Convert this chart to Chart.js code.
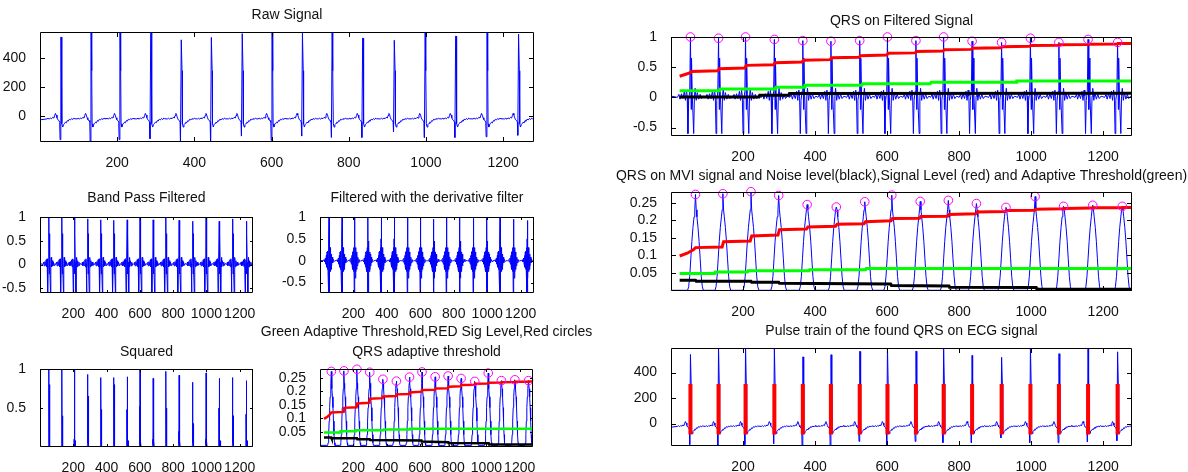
<!DOCTYPE html>
<html>
<head>
<meta charset="utf-8">
<title>QRS detection</title>
<script src="https://cdn.jsdelivr.net/npm/chart.js@4.4.1/dist/chart.umd.min.js"></script>
<style>
  html, body { margin: 0; background: #fff; }
  #page { position: relative; width: 1188px; height: 472px; overflow: hidden; }
  #page canvas { position: absolute; }
</style>
</head>
<body>
<div id="page"></div>
<script>
// ---- data ----
const xTicks = [200, 400, 600, 800, 1000, 1200];
const rawYTicks = [0, 200, 400];
const filtYTicks = [-0.5, 0, 0.5, 1];
const sqYTicks = [0.5, 1];
const mviYTicks = [0.05, 0.1, 0.15, 0.2, 0.25];

// R peak sample positions, and the (delayed) peaks of the integrated signal
const beatX = [54, 132, 207, 287, 366, 444, 524, 601, 680, 757, 836, 918, 998, 1077, 1158, 1240];
const mviX = [68, 144, 222, 299, 378, 459, 538, 613, 692, 770, 848, 930, 1011, 1090, 1171, 1253];

const rawR = [542, 600, 600, 600, 523, 540, 566, 600, 568, 600, 535, 520, 600, 548, 600, 563];
const rawS = [-165, -190, -165, -158, -190, -190, -140, -170, -140, -150, -150, -112, -150, -150, -145, -135];
const bpPeak = [1.0, 0.98, 1.0, 0.96, 0.94, 0.93, 0.94, 1.0, 0.94, 1.0, 0.93, 0.91, 0.98, 0.91, 0.96, 0.91];
const derivPeak = [1, 1, 1, 1, 1, 1, 1, 1, 0.95, 1, 1, 0.97, 1, 1, 0.95, 0.92];
const sqPeak = [1.0, 1.0, 1.0, 0.93, 0.89, 0.89, 0.9, 1.0, 0.88, 0.97, 0.92, 0.83, 0.95, 0.88, 0.89, 0.85];
const sqPrev = [0.25, 0.52, 0.1, 0.38, 0.5, 0.15, 0.48, 0.52, 0.1, 0.5, 0.2, 0.5, 0.1, 0.5, 0.45, 0.42];
const sqNext = [0.8, 0.4, 0.45, 0.65, 0.48, 0.8, 0.4, 0.5, 0.3, 0.5, 0.7, 0.3, 0.9, 0.45, 0.4, 0.45];
const mviPeak = [0.274, 0.276, 0.282, 0.271, 0.245, 0.238, 0.253, 0.272, 0.254, 0.257, 0.248, 0.237, 0.268, 0.24, 0.243, 0.24];

// one beat of each signal: [offset from peak, value]; letters take the per-beat value
const rawShape = [[-36, -22], [-33, -17], [-30, -24], [-27, -15], [-24, -21], [-21, -11], [-18, -16], [-16, 2],
  [-14, 16], [-12, 4], [-10, -14], [-8, -27], [-5, -33], [-3, -45], [-2, 'S'], [0, 'R'], [1, 'R'], [2, 310],
  [3, -55], [5, -78], [7, -62], [10, -52], [12, -44], [14, -49], [17, -33], [19, -38], [22, -24], [25, -29],
  [28, -19], [31, -26], [34, -16], [36, -21]];
const bpShape = [[-36, 0.0], [-32, 0.05], [-29, -0.03], [-25, 0.06], [-21, -0.02], [-17, 0.1], [-14, -0.05],
  [-11, 0.12], [-9, 0.02], [-7, -0.6], [-5, -0.05], [-2, 0.1], [0, 'P'], [2, -0.2], [3, 0.65], [5, 0.05],
  [9, -0.6], [11, 0.02], [13, 0.15], [16, -0.05], [19, 0.08], [23, -0.03], [27, 0.05], [31, -0.02], [36, 0.02]];
const derivShape = [[-36, 0], [-30, 0.02], [-26, -0.03], [-22, 0.06], [-19, -0.08], [-16, 0.12], [-14, -0.15],
  [-12, 0.2], [-10, -0.2], [-8, 0.22], [-6, -0.25], [-4, 0.3], [-2, -0.74], [-1, 0.5], [0, 'P'], [1, -0.74],
  [2, 0.45], [4, -0.4], [6, 0.3], [8, -0.25], [10, 0.2], [12, -0.2], [14, 0.15], [16, -0.12], [19, 0.08],
  [22, -0.05], [26, 0.03], [31, -0.02], [36, 0]];
const sqShape = [[-10, 0], [-3, 0.02], [-2, 'A'], [-1, 0.03], [0, 'P'], [1, 0.05], [2, 'B'], [3, 0.01],
  [5, 0.08], [6, 0], [10, 0]];
const mviShape = [[-22, 0], [-19, 0.01], [-16, 0.04], [-13, 0.09], [-10, 0.14], [-7, 0.18], [-4, 0.21],
  [-2, 0.23], [0, 'P'], [2, 0.23], [4, 0.21], [7, 0.18], [10, 0.14], [13, 0.09], [16, 0.04], [19, 0.01], [22, 0]];

// signal level (red), adaptive threshold (green), noise level (black)
const trRed = [[24, 0.35], [54, 0.41], [57, 0.43], [130, 0.44], [134, 0.475], [205, 0.485], [209, 0.53],
  [285, 0.54], [289, 0.575], [364, 0.585], [368, 0.615], [442, 0.625], [446, 0.655], [522, 0.665], [526, 0.69],
  [599, 0.7], [603, 0.73], [678, 0.737], [682, 0.76], [755, 0.767], [759, 0.79], [834, 0.795], [838, 0.815],
  [916, 0.82], [920, 0.84], [996, 0.845], [1000, 0.86], [1075, 0.863], [1079, 0.872], [1156, 0.875],
  [1160, 0.88], [1238, 0.882], [1242, 0.892], [1280, 0.894]];
const trGreen = [[24, 0.11], [135, 0.11], [137, 0.14], [290, 0.14], [292, 0.167], [370, 0.167], [372, 0.2],
  [530, 0.2], [532, 0.225], [720, 0.225], [722, 0.25], [958, 0.25], [960, 0.273], [1280, 0.273]];
const trBlack = [[24, 0.008], [244, 0.008], [246, 0.033], [327, 0.033], [329, 0.065], [1280, 0.07]];

const mviRed = [[24, 0.098], [45, 0.106], [62, 0.116], [68, 0.122], [142, 0.124], [146, 0.139], [220, 0.141],
  [224, 0.155], [297, 0.158], [301, 0.173], [376, 0.175], [380, 0.181], [457, 0.183], [461, 0.189],
  [536, 0.19], [540, 0.196], [611, 0.199], [615, 0.205], [690, 0.206], [694, 0.211], [768, 0.212],
  [772, 0.217], [846, 0.219], [850, 0.224], [928, 0.225], [932, 0.228], [1009, 0.229], [1013, 0.232],
  [1088, 0.233], [1092, 0.234], [1169, 0.235], [1173, 0.236], [1251, 0.236], [1255, 0.237], [1280, 0.237]];
const mviGreen = [[24, 0.048], [121, 0.048], [123, 0.052], [212, 0.052], [214, 0.056], [383, 0.056],
  [385, 0.059], [540, 0.059], [542, 0.062], [1280, 0.062]];
const mviBlack = [[24, 0.029], [68, 0.029], [70, 0.026], [222, 0.026], [224, 0.023], [299, 0.023],
  [301, 0.02], [610, 0.018], [612, 0.014], [772, 0.012], [774, 0.009], [1014, 0.008], [1016, 0.003], [1280, 0.003]];

const pulseLow = -85, pulseHigh = 310;

// ---- building series ----
function beats(centers, shape, perBeat, y0, y1) {
  const pts = [{ x: 1, y: y0 }];
  centers.forEach((c, i) => {
    for (const [dx, v] of shape) {
      pts.push({ x: c + dx, y: typeof v === 'string' ? perBeat[v][i] : v });
    }
  });
  pts.push({ x: 1280, y: y1 });
  return pts;
}
const xy = pairs => pairs.map(([x, y]) => ({ x, y }));
const zipXY = (xs, ys) => xs.map((x, i) => ({ x, y: ys[i] }));

const rawData = beats(beatX, rawShape, { R: rawR, S: rawS }, -28, -12);
const bpData = beats(beatX, bpShape, { P: bpPeak }, 0.02, 0);
const derivData = beats(beatX, derivShape, { P: derivPeak }, 0, 0);
const sqData = beats(beatX, sqShape, { P: sqPeak, A: sqPrev, B: sqNext }, 0, 0);
const mviData = beats(mviX, mviShape, { P: mviPeak }, 0, 0);
const pulseData = [];
beatX.forEach(x => pulseData.push({ x, y: pulseLow }, { x, y: pulseHigh }, { x, y: null }));

const blue = data => ({ data, borderColor: '#0000ff', borderWidth: 1, pointRadius: 0 });
const thick = (data, color, w) => ({ data, borderColor: color, borderWidth: w, pointRadius: 0 });
const rings = data => ({
  data, showLine: false, clip: false, borderColor: '#ff00ff',
  pointRadius: 4.3, pointBorderWidth: 1, pointBorderColor: '#ff00ff', pointBackgroundColor: 'rgba(0,0,0,0)'
});

// ---- matlab style box with inward ticks ----
const boxPlugin = {
  id: 'box',
  afterDraw(chart, args, opts) {
    const { ctx, chartArea: a } = chart;
    const x = chart.scales.x, y = chart.scales.y;
    ctx.save();
    ctx.strokeStyle = '#000';
    ctx.lineWidth = 1;
    ctx.beginPath();
    ctx.rect(a.left + 0.5, a.top + 0.5, a.width - 1, a.height - 1);
    for (const t of x.ticks) {
      const p = Math.round(x.getPixelForValue(t.value)) + 0.5;
      ctx.moveTo(p, a.bottom); ctx.lineTo(p, a.bottom - opts.len);
      ctx.moveTo(p, a.top); ctx.lineTo(p, a.top + opts.len);
    }
    for (const t of y.ticks) {
      const p = Math.round(y.getPixelForValue(t.value)) + 0.5;
      ctx.moveTo(a.left, p); ctx.lineTo(a.left + opts.len, p);
      ctx.moveTo(a.right, p); ctx.lineTo(a.right - opts.len, p);
    }
    ctx.stroke();
    ctx.restore();
  }
};

Chart.defaults.font.family = '"Liberation Sans", Arial, sans-serif';
Chart.defaults.font.size = 14;
Chart.defaults.color = '#111';

const page = document.getElementById('page');
const M = 80, LINE = 20, XH = 30;

function panel(box, titleY, titles, yMin, yMax, yTicks, datasets, tickLen) {
  const [L, T, R, B] = box;
  const top = titleY - LINE / 2;
  const cv = document.createElement('canvas');
  cv.width = R - L + 2 * M;
  cv.height = B - top + XH;
  cv.style.left = (L - M) + 'px';
  cv.style.top = top + 'px';
  page.appendChild(cv);
  new Chart(cv, {
    type: 'line',
    data: { datasets },
    options: {
      responsive: false,
      animation: false,
      events: [],
      layout: { padding: 0, autoPadding: false },
      elements: { point: { radius: 0 }, line: { tension: 0 } },
      plugins: {
        legend: { display: false },
        tooltip: { enabled: false },
        title: {
          display: true, text: titles, color: '#111',
          font: { size: 14, weight: 'normal', lineHeight: LINE / 14 },
          padding: { top: 0, bottom: T - top - titles.length * LINE }
        },
        box: { len: tickLen }
      },
      scales: {
        x: {
          type: 'linear', min: 0, max: 1280,
          grid: { display: false }, border: { display: false },
          afterBuildTicks: s => { s.ticks = xTicks.map(v => ({ value: v })); },
          ticks: { padding: 5, maxRotation: 0, autoSkip: false, callback: v => String(v) },
          afterFit: s => { s.height = XH; }
        },
        y: {
          type: 'linear', min: yMin, max: yMax,
          grid: { display: false }, border: { display: false },
          afterBuildTicks: s => { s.ticks = yTicks.map(v => ({ value: v })); },
          ticks: { padding: 6, autoSkip: false, callback: v => String(v) },
          afterFit: s => { s.width = M; }
        },
        yr: {
          position: 'right', display: true,
          grid: { display: false }, border: { display: false }, ticks: { display: false },
          afterFit: s => { s.width = M; }
        }
      }
    },
    plugins: [boxPlugin]
  });
}

// left column
panel([40, 32, 534, 142], 15, ['Raw Signal'], -181, 577, rawYTicks, [blue(rawData)], 5);
panel([40, 217, 253, 293], 198, ['Band Pass Filtered'], -0.6, 1, filtYTicks, [blue(bpData)], 3);
panel([320, 217, 534, 293], 198, ['Filtered with the derivative filter'], -0.74, 1, filtYTicks, [blue(derivData)], 3);
panel([40, 369, 253, 447], 352, ['Squared'], 0, 1, sqYTicks, [blue(sqData)], 3);
panel([320, 369, 533, 447], 332, ['Green Adaptive Threshold,RED Sig Level,Red circles', 'QRS adaptive threshold'],
  -0.006, 0.283, mviYTicks,
  [rings(zipXY(mviX, mviPeak)), thick(xy(mviRed), '#ff0000', 2.5), thick(xy(mviGreen), '#00ff00', 2.5),
   thick(xy(mviBlack), '#000000', 2.5), blue(mviData)], 3);

// right column
panel([671, 37, 1132, 136], 21, ['QRS on Filtered Signal'], -0.64, 1, filtYTicks,
  [rings(zipXY(beatX, bpPeak)), thick(xy(trRed), '#ff0000', 3), thick(xy(trGreen), '#00ff00', 3),
   thick(xy(trBlack), '#000000', 3), blue(bpData)], 5);
panel([671, 192, 1132, 291], 176,
  ['QRS on MVI signal and Noise level(black),Signal Level (red) and Adaptive Threshold(green)'],
  -0.002, 0.281, mviYTicks,
  [rings(zipXY(mviX, mviPeak)), thick(xy(mviRed), '#ff0000', 3), thick(xy(mviGreen), '#00ff00', 3),
   thick(xy(mviBlack), '#000000', 3), blue(mviData)], 5);
panel([671, 348, 1132, 446], 331, ['Pulse train of the found QRS on ECG signal'], -176, 593, rawYTicks,
  [thick(pulseData, '#ff0000', 4), blue(rawData)], 5);
</script>
</body>
</html>
